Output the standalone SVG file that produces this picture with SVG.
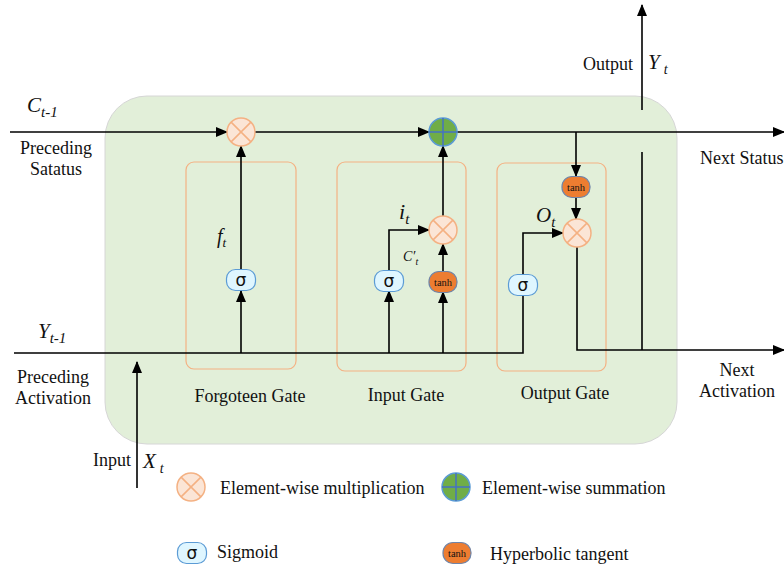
<svg xmlns="http://www.w3.org/2000/svg" width="784" height="570" viewBox="0 0 784 570">
<defs>
<marker id="ah" markerWidth="12" markerHeight="10" refX="11" refY="5" orient="auto" markerUnits="userSpaceOnUse">
<path d="M0,0 L12,5 L0,10 Z" fill="#000"/>
</marker>
<g id="mul">
<circle r="14" fill="#fbe5d6" stroke="#f4b183" stroke-width="1.5"/>
<path d="M-9.9,-9.9 L9.9,9.9 M9.9,-9.9 L-9.9,9.9" stroke="#f4b183" stroke-width="1.5"/>
</g>
<g id="sum">
<circle r="14" fill="#70ad47" stroke="#5b9bd5" stroke-width="1.5"/>
<path d="M-14,0 L14,0 M0,-14 L0,14" stroke="#4472c4" stroke-width="1.5"/>
</g>
<g id="sig">
<rect x="-14.5" y="-10.5" width="29" height="21" rx="9" fill="#dff6ff" stroke="#5b9bd5" stroke-width="1.2"/>
<text x="0" y="6" class="sg">σ</text>
</g>
<g id="tanh">
<rect x="-14" y="-10.5" width="28" height="21" rx="10" fill="#ed7d31" stroke="#6f84a8" stroke-width="1.2"/>
<text x="0" y="3.5" class="th">tanh</text>
</g>
</defs>
<style>
text{font-family:"Liberation Serif","Times New Roman",serif;fill:#111}
.lb{font-size:18px}
.it{font-style:italic}
.sg{font-family:"DejaVu Sans","Liberation Sans",sans-serif;font-size:17px;text-anchor:middle}
.th{font-size:10.5px;text-anchor:middle}
.c{text-anchor:middle}
.gate{fill:none;stroke:#f4b183;stroke-width:1.2}
.ln{fill:none;stroke:#000;stroke-width:1.6}
</style>
<rect id="cell" x="105" y="96" width="572" height="348" rx="42" fill="#e2efd9" stroke="#d6d6d6" stroke-width="1"/>
<g id="forget-gate"><rect class="gate" x="186" y="162" width="110" height="207" rx="8"/><text class="lb c" x="250" y="402">Forgoteen Gate</text></g>
<g id="input-gate"><rect class="gate" x="337" y="162" width="129" height="209" rx="8"/><text class="lb c" x="406" y="401">Input Gate</text></g>
<g id="output-gate"><rect class="gate" x="497" y="163" width="109" height="208" rx="8"/><text class="lb c" x="565" y="399">Output Gate</text></g>
<g id="connectors">
<path class="ln" d="M10,132 L227,132" marker-end="url(#ah)"/>
<path class="ln" d="M255,132 L429,132" marker-end="url(#ah)"/>
<path class="ln" d="M457,132 L784,132" marker-end="url(#ah)"/>
<path class="ln" d="M14,353 L523,353 L523,296"/>
<path class="ln" d="M241,353 L241,291" marker-end="url(#ah)"/>
<path class="ln" d="M241,270 L241,146" marker-end="url(#ah)"/>
<path class="ln" d="M389,353 L389,291" marker-end="url(#ah)"/>
<path class="ln" d="M389,270 L389,230 L429,230" marker-end="url(#ah)"/>
<path class="ln" d="M443,353 L443,292" marker-end="url(#ah)"/>
<path class="ln" d="M443,272 L443,244" marker-end="url(#ah)"/>
<path class="ln" d="M443,216 L443,146" marker-end="url(#ah)"/>
<path class="ln" d="M576,132 L576,176" marker-end="url(#ah)"/>
<path class="ln" d="M576,198 L576,219" marker-end="url(#ah)"/>
<path class="ln" d="M523,275 L523,233 L563,233" marker-end="url(#ah)"/>
<path class="ln" d="M577,247 L577,350 L784,350" marker-end="url(#ah)"/>
<path class="ln" d="M642,152 L642,350"/>
<path class="ln" d="M642,110 L642,5" marker-end="url(#ah)"/>
<path class="ln" d="M137,488 L137,362" marker-end="url(#ah)"/>
</g>
<g id="forget-mul"><use href="#mul" x="241" y="132"/></g>
<g id="sum-node"><use href="#sum" x="443" y="132"/></g>
<g id="forget-sigma"><use href="#sig" x="241" y="280"/></g>
<g id="input-sigma"><use href="#sig" x="389" y="281"/></g>
<g id="input-tanh"><use href="#tanh" x="443" y="282"/></g>
<g id="input-mul"><use href="#mul" x="443" y="230"/></g>
<g id="output-tanh"><use href="#tanh" x="576" y="187"/></g>
<g id="output-mul"><use href="#mul" x="577" y="233"/></g>
<g id="output-sigma"><use href="#sig" x="523" y="285"/></g>
<g id="labels">
<text class="it" x="27" y="112" font-size="21">C<tspan font-size="15" dy="5">t-1</tspan></text>
<text class="lb c" x="56" y="154">Preceding</text>
<text class="lb c" x="56" y="175">Satatus</text>
<text class="it" x="38" y="338" font-size="21">Y<tspan font-size="15" dy="5">t-1</tspan></text>
<text class="lb c" x="53" y="383">Preceding</text>
<text class="lb c" x="53" y="404">Activation</text>
<text class="lb" x="93" y="466">Input</text>
<text class="it" x="143" y="468" font-size="21">X<tspan font-size="14" dx="4" dy="5">t</tspan></text>
<text class="lb" x="583" y="70">Output</text>
<text class="it" x="648" y="69" font-size="21">Y<tspan font-size="14" dx="4" dy="5">t</tspan></text>
<text class="lb" x="700" y="164">Next Status</text>
<text class="lb c" x="737" y="376">Next</text>
<text class="lb c" x="737" y="397">Activation</text>
<text class="it" x="217" y="243" font-size="20">f<tspan font-size="13" dy="4">t</tspan></text>
<text class="it" x="399" y="219" font-size="22">i<tspan font-size="15" dy="5">t</tspan></text>
<text class="it" x="403" y="261" font-size="14">C′<tspan font-size="10" dy="4">t</tspan></text>
<text class="it" x="536" y="222" font-size="21">O<tspan font-size="15" dy="5">t</tspan></text>
</g>
<g id="legend">
<use href="#mul" x="191" y="487"/>
<text class="lb" x="220" y="494">Element-wise multiplication</text>
<use href="#sum" x="456" y="487"/>
<text class="lb" x="482" y="494">Element-wise summation</text>
<use href="#sig" x="192" y="553"/>
<text class="lb" x="217" y="558">Sigmoid</text>
<use href="#tanh" x="457" y="553"/>
<text class="lb" x="490" y="560">Hyperbolic tangent</text>
</g>
</svg>
